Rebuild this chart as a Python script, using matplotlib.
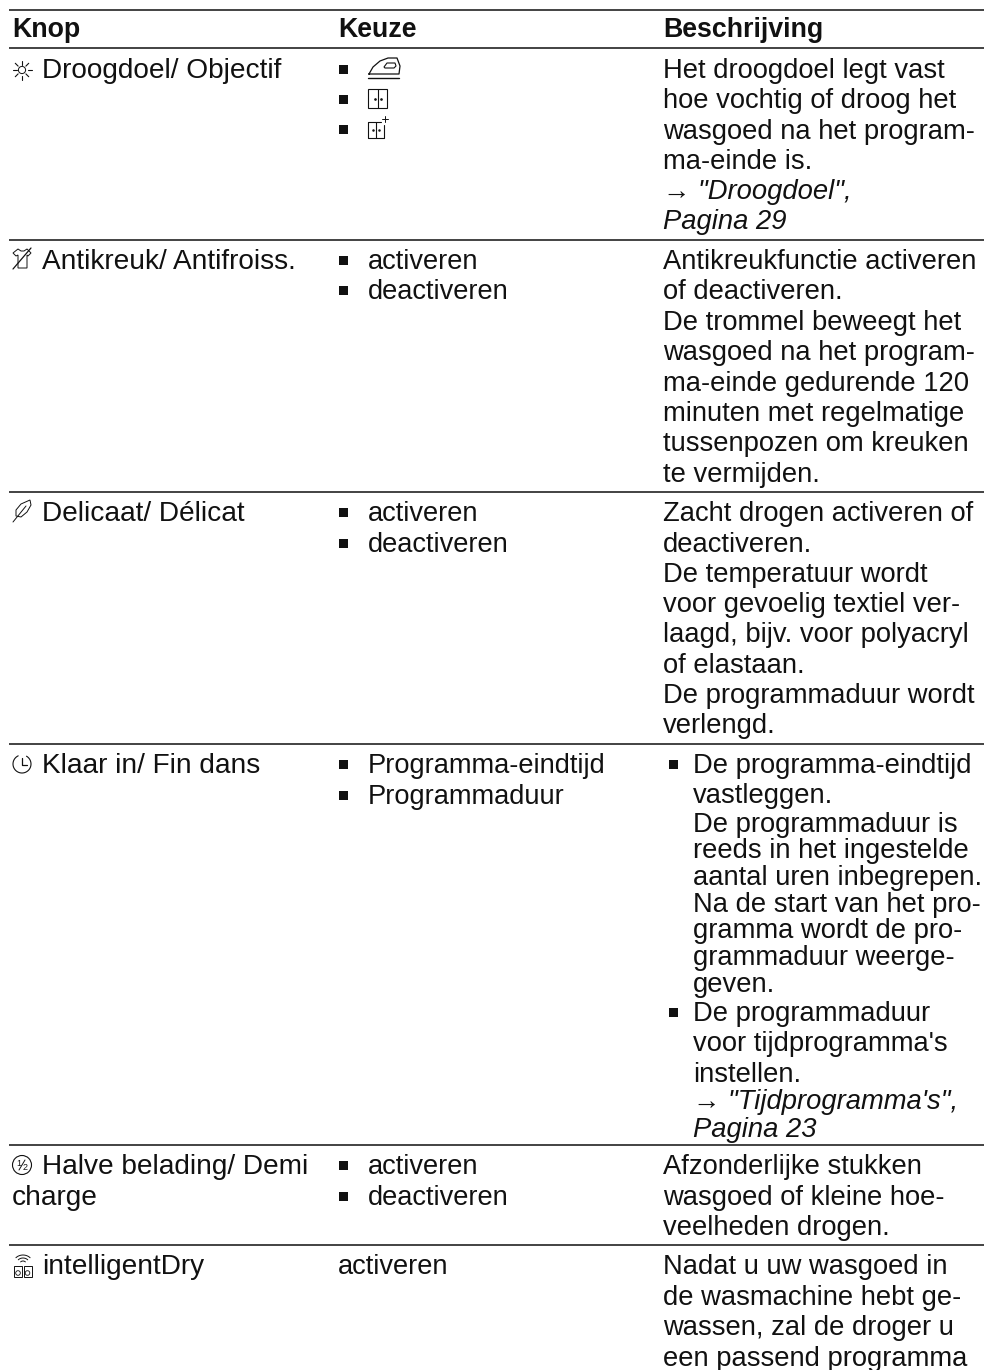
import numpy as np
import matplotlib
matplotlib.use("Agg")
import matplotlib.pyplot as plt
from matplotlib.patches import Circle, Polygon, Rectangle

plt.rcParams['font.family'] = ['Liberation Sans', 'DejaVu Sans']

# table contents
headers = ["Knop", "Keuze", "Beschrijving"]

knop_rows = [["Droogdoel/ Objectif"],
             ["Antikreuk/ Antifroiss."],
             ["Delicaat/ Délicat"],
             ["Klaar in/ Fin dans"],
             ["Halve belading/ Demi", "charge"],
             ["intelligentDry"]]

keuze_rows = [["", "", ""],
              ["activeren", "deactiveren"],
              ["activeren", "deactiveren"],
              ["Programma-eindtijd", "Programmaduur"],
              ["activeren", "deactiveren"],
              ["activeren"]]

beschrijving_rows = [
    ["Het droogdoel legt vast", "hoe vochtig of droog het", "wasgoed na het program-",
     "ma-einde is.", "→ \"Droogdoel\",", "Pagina 29"],
    ["Antikreukfunctie activeren", "of deactiveren.", "De trommel beweegt het",
     "wasgoed na het program-", "ma-einde gedurende 120", "minuten met regelmatige",
     "tussenpozen om kreuken", "te vermijden."],
    ["Zacht drogen activeren of", "deactiveren.", "De temperatuur wordt",
     "voor gevoelig textiel ver-", "laagd, bijv. voor polyacryl", "of elastaan.",
     "De programmaduur wordt", "verlengd."],
    ["De programma-eindtijd", "vastleggen.", "De programmaduur is", "reeds in het ingestelde",
     "aantal uren inbegrepen.", "Na de start van het pro-", "gramma wordt de pro-",
     "grammaduur weerge-", "geven.", "De programmaduur", "voor tijdprogramma's",
     "instellen.", "→ \"Tijdprogramma's\",", "Pagina 23"],
    ["Afzonderlijke stukken", "wasgoed of kleine hoe-", "veelheden drogen."],
    ["Nadat u uw wasgoed in", "de wasmachine hebt ge-", "wassen, zal de droger u",
     "een passend programma"],
]

italic_lines = ["→ \"Droogdoel\",", "Pagina 29", "→ \"Tijdprogramma's\",", "Pagina 23"]
bulleted_lines = ["De programma-eindtijd", "De programmaduur"]

# layout in pixels
rules_y = [10, 48, 240, 492, 744, 1145, 1245]
col_x = [12, 338, 663]
keuze_text_x = 368
besch_text_x = 693
icon_text_x = 42
keuze_base = [[78, 108, 138], [269, 299], [521, 552], [773, 804], [1174, 1205], [1274]]
knop_base = [[78], [269], [521], [773], [1174, 1205], [1274]]
besch_base = [[78, 108, 138.5, 169, 199, 229],
              [269, 299, 330, 360, 391, 421, 451, 482],
              [521, 552, 582, 612, 642, 673, 703, 733],
              [773, 803, 832, 858, 885, 912, 938, 965, 992, 1021, 1051, 1082, 1109, 1137],
              [1174, 1205, 1235],
              [1274, 1305, 1335, 1366]]
header_size = 19.3
knop_size = 20.2
keuze_size = 19.6
besch_size = 19.7
ink = '#111111'

fig = plt.figure(figsize=(9.86, 13.7), dpi=100)
ax = fig.add_axes([0, 0, 1, 1])
ax.set_xlim(0, 986)
ax.set_ylim(1370, 0)
ax.axis('off')


def line(xs, ys, lw=0.8):
    ax.plot(xs, ys, color=ink, lw=lw, solid_capstyle='round')


def bullet(x, base):
    ax.add_patch(Rectangle((x, base - 13), 9, 9, color=ink, lw=0))


def sun(cx, cy):
    ax.add_patch(Circle((cx, cy), 3.6, fill=False, ec=ink, lw=0.7))
    for ang in np.arange(0, 360, 45):
        a = np.radians(ang)
        line([cx + 5.5 * np.cos(a), cx + 9.5 * np.cos(a)], [cy + 5.5 * np.sin(a), cy + 9.5 * np.sin(a)], 0.8)


def shirt(x, y):
    pts = [(5, 1), (8, 3), (11, 3), (14, 1), (18, 5), (15, 8), (14, 7), (14, 20), (5, 20), (5, 7), (3, 8), (0, 5)]
    ax.add_patch(Polygon([(x + a, y + b) for a, b in pts], fill=False, ec=ink, lw=0.7))
    line([x + 0, x + 18], [y + 21, y + 0], 0.9)


def feather(x, y):
    pts = [(17, 0), (18, 5), (14, 12), (8, 17), (3, 16), (3, 10), (8, 4)]
    ax.add_patch(Polygon([(x + a, y + b) for a, b in pts], fill=False, ec=ink, lw=0.7))
    line([x + 0, x + 13], [y + 22, y + 6], 0.7)


def clock(cx, cy):
    t = np.radians(np.arange(-60, 250, 5))
    line(cx + 9 * np.cos(t), cy + 9 * np.sin(t), 0.8)
    line([cx, cx, cx + 5], [cy - 6, cy + 1, cy + 1], 0.9)


def halfload(cx, cy):
    ax.add_patch(Circle((cx, cy), 9.5, fill=False, ec=ink, lw=0.8))
    line([cx - 3, cx + 3], [cy + 5, cy - 5], 0.7)
    ax.text(cx - 3.5, cy - 1, "1", fontsize=6.5, ha='center', va='center', color=ink)
    ax.text(cx + 3.5, cy + 3, "2", fontsize=6.5, ha='center', va='center', color=ink)


def dryer_wifi(x, y):
    for off in [0, 9.5]:
        ax.add_patch(Rectangle((x + off, y + 13), 8, 11, fill=False, ec=ink, lw=0.7))
        ax.add_patch(Circle((x + off + 4, y + 20), 2.3, fill=False, ec=ink, lw=0.6))
    for r in [3, 6, 9]:
        ts = np.linspace(-0.8, 0.8, 12)
        line(x + 9 + r * 1.1 * np.sin(ts), y + 11 - r * np.cos(ts), 0.7)


def iron(x, y):
    xs = np.array([1, 5, 12, 20, 29, 32, 31, 1])
    ys = np.array([16, 9, 3, 0, 0, 8, 16, 16])
    ax.plot(x + xs, y + ys, color=ink, lw=0.9)
    ax.add_patch(Polygon([(x + 16, y + 9), (x + 19, y + 5), (x + 27, y + 5), (x + 28, y + 8), (x + 26, y + 10), (x + 17, y + 10)],
                         fill=False, ec=ink, lw=0.8))
    line([x, x + 31], [y + 20, y + 20], 1.0)


def window(x, y, w, h):
    ax.add_patch(Rectangle((x, y), w, h, fill=False, ec=ink, lw=0.8))
    line([x + w / 2, x + w / 2], [y, y + h], 0.8)
    ax.plot([x + w / 2 - 3, x + w / 2 + 3], [y + h / 2, y + h / 2], ls='', marker='.', ms=1.8, color=ink)


def window_plus(x, y, w, h):
    line([x + w - 3, x, x, x + w, x + w], [y, y, y + h, y + h, y + 3], 0.8)
    line([x + w / 2, x + w / 2], [y, y + h], 0.8)
    ax.plot([x + w / 2 - 3, x + w / 2 + 3], [y + h / 2, y + h / 2], ls='', marker='.', ms=1.6, color=ink)
    line([x + w - 2, x + w + 4], [y - 3, y - 3], 0.7)
    line([x + w + 1, x + w + 1], [y - 6, y], 0.7)


# rules
for y in rules_y:
    ax.plot([9, 984], [y, y], color='#222222', lw=1.2, solid_capstyle='butt')

# header
for x, h in zip(col_x, headers):
    ax.text(x, 37, h, fontsize=header_size, fontweight='bold', va='baseline', ha='left', color=ink)

# first column
for r, (lines_, bases) in enumerate(zip(knop_rows, knop_base)):
    for i, (txt, b) in enumerate(zip(lines_, bases)):
        x = icon_text_x if i == 0 else col_x[0]
        ax.text(x, b, txt, fontsize=knop_size, va='baseline', ha='left', color=ink)

sun(22, 70)
shirt(13, 248)
feather(13, 500)
clock(22, 764)
halfload(22, 1165)
dryer_wifi(14, 1253)

# second column
for r, (lines_, bases) in enumerate(zip(keuze_rows, keuze_base)):
    for txt, b in zip(lines_, bases):
        if r == 5:
            ax.text(col_x[1], b, txt, fontsize=keuze_size, va='baseline', color=ink)
            continue
        bullet(col_x[1] + 1, b)
        if txt:
            ax.text(keuze_text_x, b, txt, fontsize=keuze_size, va='baseline', color=ink)

iron(368, 58)
window(368, 89, 19, 19)
window_plus(368, 122, 16, 16)

# third column
for r, (lines_, bases) in enumerate(zip(beschrijving_rows, besch_base)):
    for txt, b in zip(lines_, bases):
        x = col_x[2]
        if r == 3:
            x = besch_text_x
            if txt in bulleted_lines:
                bullet(col_x[2] + 6, b)
        style = 'italic' if txt in italic_lines else 'normal'
        ax.text(x, b, txt, fontsize=besch_size, va='baseline', style=style, color=ink)

fig.savefig("out.png", dpi=100)
